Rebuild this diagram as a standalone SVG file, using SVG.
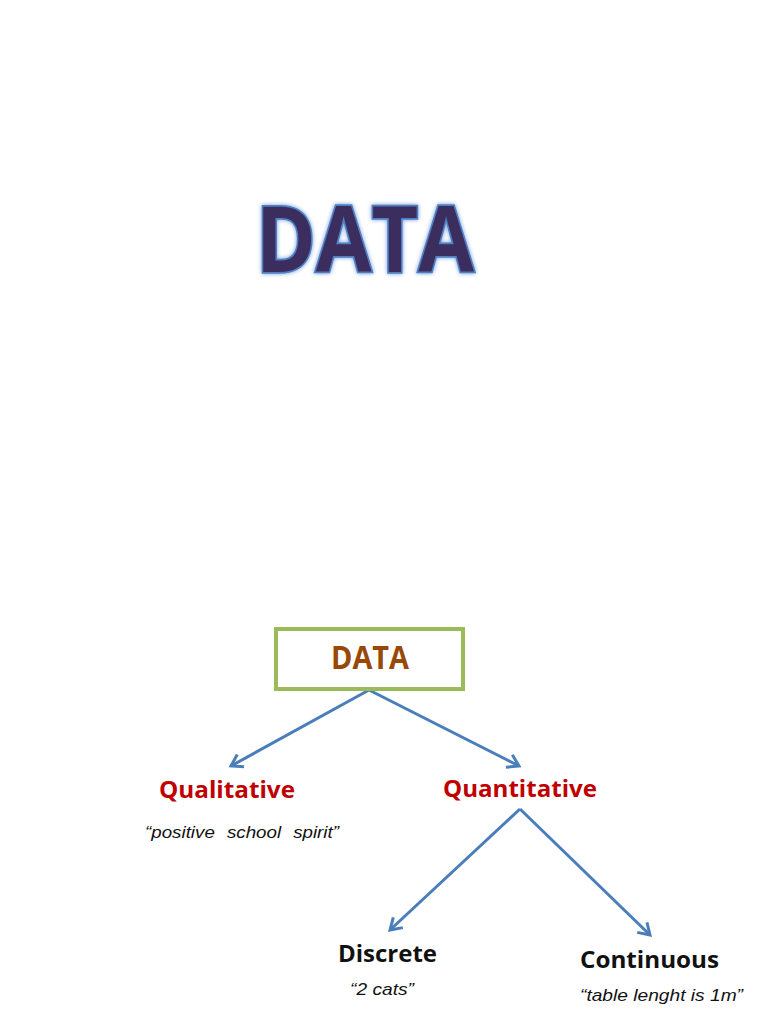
<svg xmlns="http://www.w3.org/2000/svg" width="768" height="1024" viewBox="0 0 768 1024">
<style>
.conn{stroke:#4a7ebb;stroke-width:3;fill:none;marker-end:url(#arr)}
.cat{font-family:"Open Sans","Liberation Sans",sans-serif;font-weight:bold;font-size:24px}
.red{fill:#c00000}
.blk{fill:#111111}
.ex{font-family:"Liberation Sans",Arial,sans-serif;font-style:italic;font-size:16.5px;fill:#111111}
</style>
<defs>
<marker id="arr" markerUnits="userSpaceOnUse" markerWidth="20" markerHeight="20" refX="13" refY="8" orient="auto" viewBox="0 0 20 16">
<path d="M2,1 L13,8 L2,15" fill="none" stroke="#4a7ebb" stroke-width="3" stroke-linejoin="miter"/>
</marker>
<filter id="glow" x="-10%" y="-20%" width="120%" height="140%">
<feGaussianBlur in="SourceAlpha" stdDeviation="2" result="b"/>
<feFlood flood-color="#6f9ad8"/>
<feComposite in2="b" operator="in" result="g"/>
<feMerge><feMergeNode in="g"/><feMergeNode in="SourceGraphic"/></feMerge>
</filter>
</defs>
<rect width="768" height="1024" fill="#ffffff"/>
<g id="title">
<text x="365" y="272" text-anchor="middle" font-family="Open Sans,Liberation Sans,sans-serif" font-weight="bold" font-size="92" textLength="218" lengthAdjust="spacingAndGlyphs" fill="#3b2f5e" stroke="#4f7fc4" stroke-width="3.5" paint-order="stroke" filter="url(#glow)">DATA</text>
</g>
<g id="connectors">
<line class="conn" x1="369" y1="690" x2="231" y2="766"/>
<line class="conn" x1="369" y1="690" x2="519" y2="766"/>
<line class="conn" x1="520" y1="809" x2="390" y2="930"/>
<line class="conn" x1="520" y1="809" x2="650" y2="935"/>
</g>
<g id="node-data">
<rect x="276" y="629" width="187" height="60" fill="#ffffff" stroke="#9bbb59" stroke-width="4"/>
<text x="370" y="669" text-anchor="middle" font-family="Open Sans,Liberation Sans,sans-serif" font-weight="bold" font-size="32" fill="#984807" textLength="78" lengthAdjust="spacingAndGlyphs">DATA</text>
</g>
<g id="node-qualitative">
<text class="cat red" x="159" y="798" textLength="136" lengthAdjust="spacingAndGlyphs">Qualitative</text>
<text class="ex" x="145" y="838" word-spacing="6" textLength="194" lengthAdjust="spacingAndGlyphs">“positive school spirit”</text>
</g>
<g id="node-quantitative">
<text class="cat red" x="443" y="797" textLength="154" lengthAdjust="spacingAndGlyphs">Quantitative</text>
</g>
<g id="node-discrete">
<text class="cat blk" x="338" y="962" textLength="99" lengthAdjust="spacingAndGlyphs">Discrete</text>
<text class="ex" x="350" y="995" textLength="64" lengthAdjust="spacingAndGlyphs">“2 cats”</text>
</g>
<g id="node-continuous">
<text class="cat blk" x="580" y="968" textLength="139" lengthAdjust="spacingAndGlyphs">Continuous</text>
<text class="ex" x="580" y="1001" textLength="163" lengthAdjust="spacingAndGlyphs">“table lenght is 1m”</text>
</g>
</svg>
